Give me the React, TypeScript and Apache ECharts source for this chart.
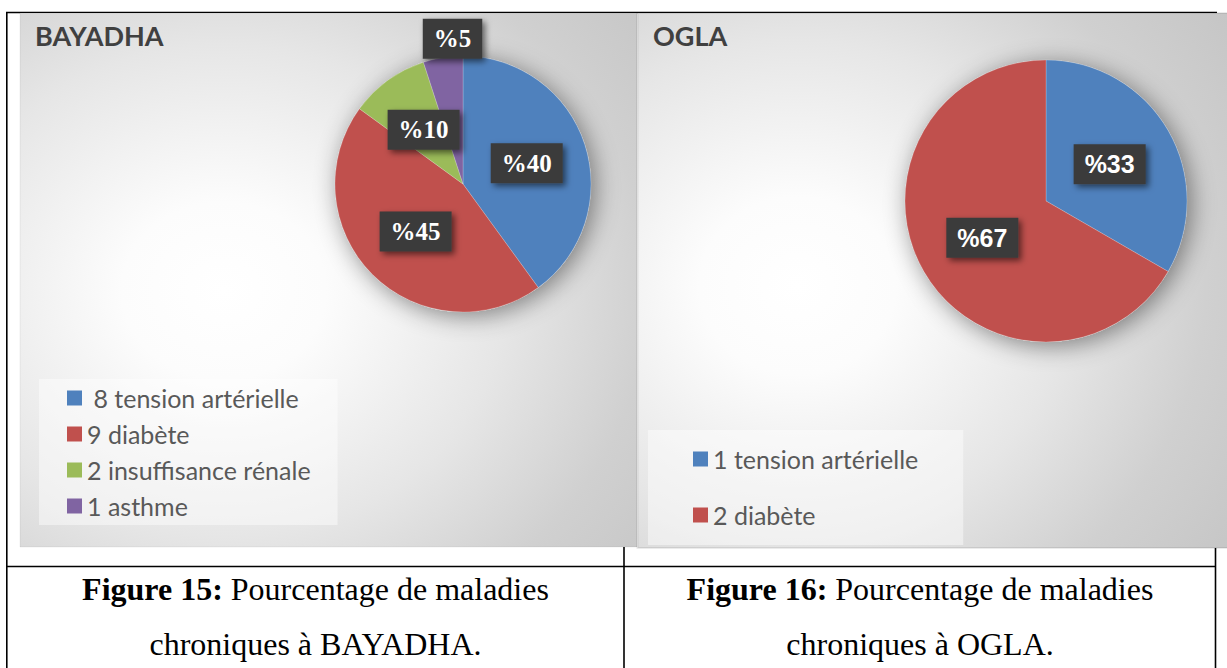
import React, { useEffect, useRef } from 'react';
import * as echarts from 'echarts';

// ---- data ----
const bayadhaLegendNames = [' 8 tension artérielle', '9 diabète', '2 insuffisance rénale', '1 asthme'];
const bayadhaCounts = [8, 9, 2, 1];
const oglaLegendNames = ['1 tension artérielle', '2 diabète'];
const oglaCounts = [1, 2];
const sliceColors = ['#4F81BD', '#C0504D', '#9BBB59', '#8064A2'];
const panelTitles = ['BAYADHA', 'OGLA'];
const captionBold = ['Figure 15:', 'Figure 16:'];
const captionRest = ' Pourcentage de maladies';
const captionLine2 = ['chroniques à BAYADHA.', 'chroniques à OGLA.'];

const SANS = 'Lato, "Open Sans", sans-serif';
const SERIF = '"Liberation Serif", "Times New Roman", serif';

function panelFill(cx: number, cy: number) {
  return new echarts.graphic.RadialGradient(cx, cy, 0.92, [
    { offset: 0, color: '#ffffff' },
    { offset: 0.18, color: '#fcfcfc' },
    { offset: 0.5, color: '#e6e6e6' },
    { offset: 0.75, color: '#d0d0d0' },
    { offset: 1, color: '#c4c4c4' },
  ]);
}

function labelBox(fontFamily: string) {
  return {
    show: true,
    position: 'inside',
    formatter: (p: any) => '%' + p.percent,
    color: '#ffffff',
    fontFamily,
    fontWeight: 'bold',
    fontSize: 25,
    lineHeight: 27,
    backgroundColor: '#3b3b3b',
    padding: [7, 11, 6, 11],
    shadowColor: 'rgba(0,0,0,0.55)',
    shadowBlur: 6,
    shadowOffsetX: 3,
    shadowOffsetY: 3,
  };
}

function shadowPie(center: number[], radius: number, total: number) {
  return {
    type: 'pie',
    name: 'shadow',
    silent: true,
    z: 1,
    center,
    radius,
    label: { show: false },
    labelLine: { show: false },
    itemStyle: {
      color: '#cccccc',
      shadowColor: 'rgba(0,0,0,0.45)',
      shadowBlur: 24,
      shadowOffsetX: 4,
      shadowOffsetY: 4,
    },
    data: [{ name: '', value: total }],
  };
}

function line(x1: number, y1: number, x2: number, y2: number) {
  return {
    type: 'line',
    z: 0,
    silent: true,
    shape: { x1, y1, x2, y2 },
    style: { stroke: '#000000', lineWidth: 1.6 },
  };
}

function caption(x: number, i: number) {
  return [
    {
      type: 'text',
      z: 0,
      x,
      y: 589,
      style: {
        text: '{b|' + captionBold[i] + '}' + captionRest,
        align: 'center',
        verticalAlign: 'middle',
        fontFamily: SERIF,
        fontSize: 32,
        fill: '#000000',
        rich: { b: { fontFamily: SERIF, fontSize: 32, fontWeight: 'bold', fill: '#000000' } },
      },
    },
    {
      type: 'text',
      z: 0,
      x,
      y: 644,
      style: {
        text: captionLine2[i],
        align: 'center',
        verticalAlign: 'middle',
        fontFamily: SERIF,
        fontSize: 32,
        fill: '#000000',
      },
    },
  ];
}

export default function App() {
  const ref = useRef<HTMLDivElement>(null);

  useEffect(() => {
    if (!ref.current) return;
    document.body.style.margin = '0';
    const chart = echarts.init(ref.current, undefined, { renderer: 'svg' });

    const sum = (a: number[]) => a.reduce((s, v) => s + v, 0);

    const legendCommon = {
      orient: 'vertical',
      itemWidth: 15,
      itemHeight: 15,
      icon: 'rect',
      itemStyle: { borderWidth: 0 },
      backgroundColor: 'rgba(255,255,255,0.45)',
      selectedMode: false,
      textStyle: { fontFamily: SANS, fontSize: 25, lineHeight: 26, color: '#595959' },
    };

    const option: any = {
      animation: false,
      backgroundColor: '#ffffff',
      title: panelTitles.map((t, i) => ({
        text: t,
        left: i === 0 ? 35 : 653,
        top: 22,
        padding: 0,
        textStyle: { fontFamily: SANS, fontWeight: 'bold', fontSize: 27, color: '#404040' },
      })),
      legend: [
        {
          ...legendCommon,
          left: 39,
          top: 379,
          padding: [6, 27, 6, 28],
          itemGap: 10,
          data: bayadhaLegendNames,
        },
        {
          ...legendCommon,
          left: 648,
          top: 430,
          padding: [16, 45, 17, 45],
          itemGap: 30,
          data: oglaLegendNames,
        },
      ],
      graphic: [
        line(6, 12.5, 1217, 12.5),
        line(6.8, 12, 6.8, 668),
        line(624, 546, 624, 668),
        line(1215.5, 546, 1215.5, 668),
        line(6, 566.5, 1216, 566.5),
        {
          type: 'rect',
          z: 0,
          silent: true,
          shape: { x: 20, y: 13, width: 617, height: 534 },
          style: { fill: panelFill(0.33, 0.52), stroke: 'rgba(0,0,0,0.06)', lineWidth: 1 },
        },
        {
          type: 'rect',
          z: 0,
          silent: true,
          shape: { x: 637.5, y: 13, width: 592, height: 535 },
          style: { fill: panelFill(0.27, 0.51), stroke: 'rgba(0,0,0,0.08)', lineWidth: 2 },
        },
        ...caption(315.5, 0),
        ...caption(920, 1),
      ],
      series: [
        shadowPie([463, 184], 128, sum(bayadhaCounts)),
        {
          type: 'pie',
          name: 'BAYADHA',
          z: 2,
          center: [463, 184],
          radius: 128,
          startAngle: 90,
          clockwise: true,
          percentPrecision: 0,
          avoidLabelOverlap: false,
          labelLine: { show: false },
          itemStyle: { borderColor: 'rgba(255,255,255,0.35)', borderWidth: 0.6 },
          emphasis: { disabled: true },
          label: labelBox(SERIF),
          labelLayout: (params: any) => (params.dataIndex === 3 ? { dy: -79 } : {}),
          data: bayadhaLegendNames.map((n, i) => ({
            name: n,
            value: bayadhaCounts[i],
            itemStyle: { color: sliceColors[i] },
          })),
        },
        shadowPie([1046, 201], 141, sum(oglaCounts)),
        {
          type: 'pie',
          name: 'OGLA',
          z: 2,
          center: [1046, 201],
          radius: 141,
          startAngle: 90,
          clockwise: true,
          percentPrecision: 0,
          avoidLabelOverlap: false,
          labelLine: { show: false },
          itemStyle: { borderColor: 'rgba(255,255,255,0.35)', borderWidth: 0.6 },
          emphasis: { disabled: true },
          label: labelBox('"Liberation Sans", Arial, sans-serif'),
          data: oglaLegendNames.map((n, i) => ({
            name: n,
            value: oglaCounts[i],
            itemStyle: { color: sliceColors[i] },
          })),
        },
      ],
    };

    chart.setOption(option);
    return () => chart.dispose();
  }, []);

  return (
    <div
      ref={ref}
      style={{ position: 'fixed', left: 0, top: 0, width: 1227, height: 668, background: '#ffffff' }}
    />
  );
}
